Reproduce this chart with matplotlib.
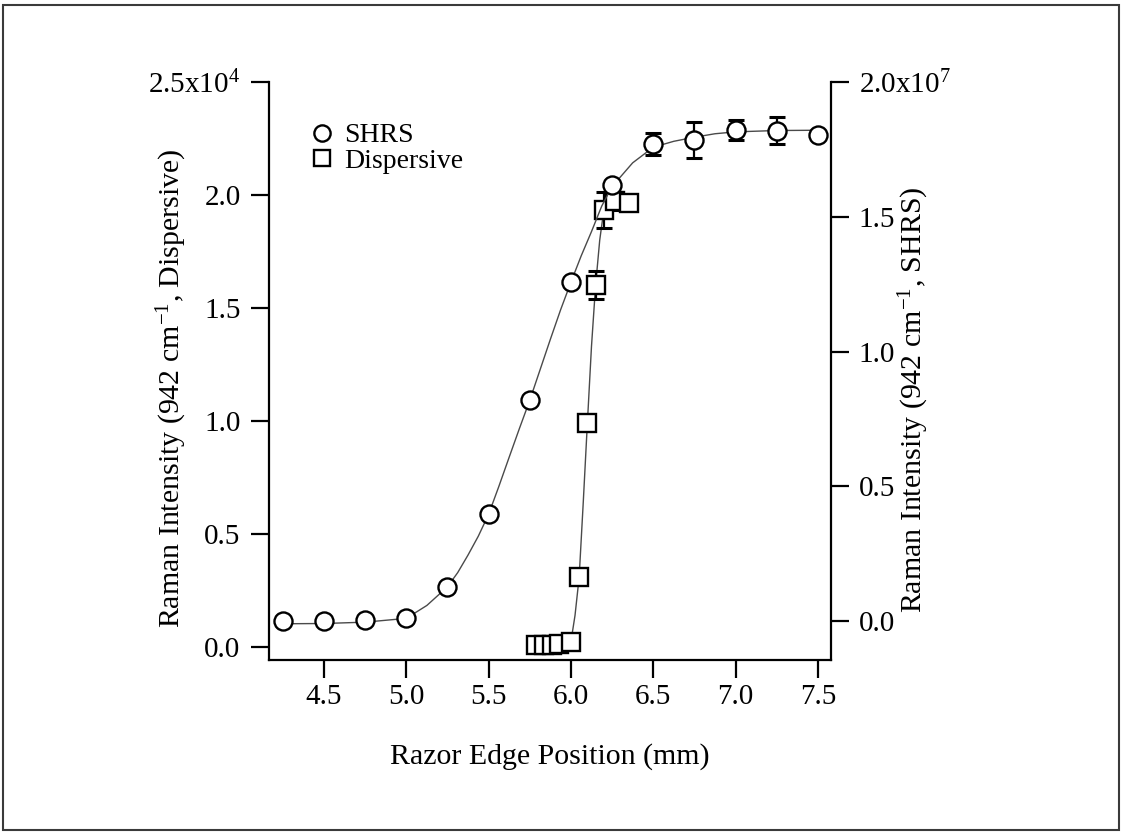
import matplotlib
matplotlib.use('Agg')
import matplotlib.pyplot as plt
from matplotlib.patches import Rectangle
from matplotlib.ticker import FixedLocator, FuncFormatter

plt.rcParams['font.family'] = ['Liberation Serif', 'DejaVu Serif']
plt.rcParams['mathtext.fontset'] = 'custom'
plt.rcParams['mathtext.rm'] = 'Liberation Serif'
plt.rcParams['mathtext.it'] = 'Liberation Serif:italic'

# ---------------- data ----------------
# SHRS intensity (units of 1e7), right axis
shrs_x = [4.25, 4.5, 4.75, 5.0, 5.25, 5.5, 5.75, 6.0, 6.25, 6.5, 6.75, 7.0, 7.25, 7.5]
shrs_y = [0.001, 0.001, 0.004, 0.012, 0.127, 0.396, 0.819, 1.257, 1.619, 1.771, 1.784, 1.821, 1.819, 1.804]
shrs_err = [0, 0, 0, 0, 0, 0, 0, 0, 0, 0.040, 0.067, 0.038, 0.050, 0]
shrs_fit_x = [4.25, 4.5, 4.75, 5.0, 5.125, 5.25, 5.3125, 5.375, 5.4375, 5.5, 5.5625, 5.625,
              5.6875, 5.75, 5.8125, 5.875, 5.9375, 6.0, 6.0625, 6.125, 6.1875, 6.25, 6.375,
              6.5, 6.625, 6.75, 6.875, 7.0, 7.25, 7.5]
shrs_fit_y = [-0.010, -0.009, -0.004, 0.010, 0.058, 0.127, 0.180, 0.245, 0.315, 0.396, 0.500, 0.608,
              0.715, 0.819, 0.932, 1.045, 1.155, 1.257, 1.355, 1.445, 1.540, 1.612, 1.700,
              1.758, 1.780, 1.795, 1.808, 1.815, 1.820, 1.821]

# Dispersive intensity (units of 1e4), left axis
disp_x = [5.785, 5.835, 5.885, 5.93, 6.0, 6.05, 6.1, 6.155, 6.2, 6.27, 6.35]
disp_y = [0.009, 0.009, 0.009, 0.013, 0.023, 0.308, 0.990, 1.602, 1.934, 1.975, 1.963]
disp_err = [0, 0, 0, 0, 0, 0, 0, 0.060, 0.080, 0.040, 0]
disp_fit_x = [6.0, 6.025, 6.05, 6.075, 6.1, 6.125, 6.15, 6.175, 6.2]
disp_fit_y = [0.023, 0.140, 0.308, 0.640, 0.990, 1.330, 1.600, 1.800, 1.934]

x_ticks = [4.5, 5.0, 5.5, 6.0, 6.5, 7.0, 7.5]
left_ticks = [0.0, 0.5, 1.0, 1.5, 2.0, 2.5]
right_ticks = [0.0, 0.5, 1.0, 1.5, 2.0]
left_scale = 1e4
right_scale = 1e7

# ---------------- figure ----------------
W, H = 1122, 833
fig = plt.figure(figsize=(W / 100, H / 100), dpi=100)
L, R, T, B = 269, 831, 82, 660
ax = fig.add_axes([L / W, 1 - B / H, (R - L) / W, (B - T) / H])
ax2 = ax.twinx()

TICK_FS = 21
LABEL_FS = 21.5
LEG_FS = 20
LINE_C = '#4a4a4a'

# Dispersive (left axis)
ax.plot(disp_fit_x, [v * left_scale for v in disp_fit_y],
        color=LINE_C, lw=1.0, zorder=1)
idx = [i for i, e in enumerate(disp_err) if e > 0]
ax.errorbar([disp_x[i] for i in idx], [disp_y[i] * left_scale for i in idx],
            yerr=[disp_err[i] * left_scale for i in idx], fmt='none',
            ecolor='black', elinewidth=1.6, capsize=6, capthick=2.2, zorder=2)
hd, = ax.plot(disp_x, [v * left_scale for v in disp_y], ls='none', marker='s',
              ms=12.5, mfc='white', mec='black', mew=1.7, zorder=3, label='Dispersive')

# SHRS (right axis)
ax2.plot(shrs_fit_x, [v * right_scale for v in shrs_fit_y],
         color=LINE_C, lw=1.0, zorder=1)
idx = [i for i, e in enumerate(shrs_err) if e > 0]
ax2.errorbar([shrs_x[i] for i in idx], [shrs_y[i] * right_scale for i in idx],
             yerr=[shrs_err[i] * right_scale for i in idx], fmt='none',
             ecolor='black', elinewidth=1.6, capsize=6, capthick=2.2, zorder=2)
hs, = ax2.plot(shrs_x, [v * right_scale for v in shrs_y], ls='none', marker='o',
               ms=13, mfc='white', mec='black', mew=1.7, zorder=3, label='SHRS')

# limits
ax.set_xlim(4.166, 7.58)
ax.set_ylim(-0.0575 * left_scale, 2.5 * left_scale)
ax2.set_ylim(-0.1444 * right_scale, 2.0 * right_scale)

# ticks
ax.xaxis.set_major_locator(FixedLocator(x_ticks))
ax.xaxis.set_major_formatter(FuncFormatter(lambda v, p: f'{v:.1f}'))
ax.yaxis.set_major_locator(FixedLocator([t * left_scale for t in left_ticks]))
ax.yaxis.set_major_formatter(FuncFormatter(
    lambda v, p: '2.5x10$^{4}$' if abs(v - 2.5e4) < 1 else f'{v / left_scale:.1f}'))
ax2.yaxis.set_major_locator(FixedLocator([t * right_scale for t in right_ticks]))
ax2.yaxis.set_major_formatter(FuncFormatter(
    lambda v, p: '2.0x10$^{7}$' if abs(v - 2.0e7) < 1 else f'{v / right_scale:.1f}'))

for a in (ax, ax2):
    a.tick_params(direction='out', length=13, width=1.6, labelsize=TICK_FS,
                  colors='black', pad=4)
    a.spines['top'].set_visible(False)
    for s in a.spines.values():
        s.set_linewidth(1.6)
ax.spines['right'].set_visible(False)
ax2.spines['left'].set_visible(False)
ax2.spines['bottom'].set_visible(False)
ax.tick_params(axis='y', pad=7.5)
ax2.tick_params(axis='y', pad=7)

# labels
ax.set_xlabel('Razor Edge Position (mm)', fontsize=LABEL_FS)
ax.xaxis.set_label_coords(0.5, -0.143)
ax.set_ylabel('Raman Intensity (942 cm$^{-1}$, Dispersive)', fontsize=LABEL_FS)
ax.yaxis.set_label_coords(-0.142, 0.47)
ax2.set_ylabel('Raman Intensity (942 cm$^{-1}$, SHRS)', fontsize=LABEL_FS, rotation=90)
ax2.yaxis.set_label_coords(1.118, 0.45)

# legend
leg = ax2.legend(handles=[hs, hd], loc='upper left',
                 bbox_to_anchor=(308 / W, 1 - 123 / H), bbox_transform=fig.transFigure,
                 frameon=False, fontsize=LEG_FS, handlelength=1.0, handletextpad=0.3,
                 labelspacing=0.0, borderpad=0, borderaxespad=0, markerscale=0.9)

# outer frame
fig.add_artist(Rectangle((3 / W, 3 / H), 1 - 6 / W, 1 - 8 / H, transform=fig.transFigure,
                         fill=False, ec='#3a3a3a', lw=1.5))

fig.savefig('out.png', dpi=100, facecolor='white')
